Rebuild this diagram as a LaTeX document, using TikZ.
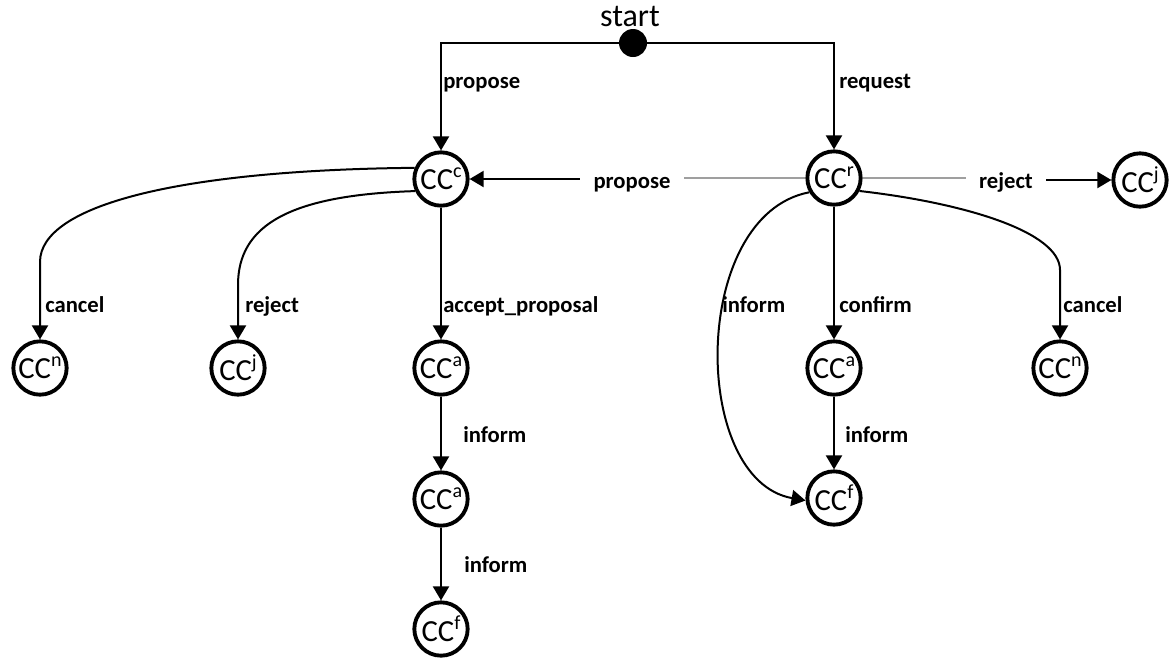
\documentclass[tikz,border=0pt]{standalone}
\usepackage{fontspec}
\setmainfont{Carlito}
\usetikzlibrary{arrows.meta}

% state label with raised index
\newcommand{\ccstate}[1]{CC\raisebox{0.4em}{\fontsize{15}{15}\selectfont #1}}

\begin{document}
\begin{tikzpicture}[x=0.75pt, y=-0.75pt,
  state/.style={circle, draw, line width=2.9pt, minimum size=40pt, inner sep=0pt,
                font=\fontsize{23}{23}\selectfont},
  arr/.style={-{Triangle[width=12pt, length=10.5pt]}, line width=1.5pt},
  gline/.style={line width=1.5pt, gray!75},
  lbl/.style={anchor=base west, inner sep=0pt, font=\bfseries\fontsize{17}{17}\selectfont},
  midlbl/.style={lbl, anchor=base, inner xsep=10pt}
]
\useasboundingbox (0,0) rectangle (1173,658);

% initial state
\node[circle, fill, inner sep=0pt, minimum size=21pt] (start) at (633,43) {};
\node[anchor=base, font=\fontsize{24}{24}\selectfont] (starttxt) at (630,26) {start};

% states
\node[state] (cc)   at (441,179) {\ccstate{c}};
\node[state] (ccr)  at (834,178) {\ccstate{r}};
\node[state] (ccrj) at (1140,180) {\ccstate{j}};
\node[state] (ccn)  at (40,368)  {\ccstate{n}};
\node[state] (ccj)  at (238,368) {\ccstate{j}};
\node[state] (cca)  at (441,368) {\ccstate{a}};
\node[state] (ccaa) at (441,499) {\ccstate{a}};
\node[state] (ccf)  at (441,629) {\ccstate{f}};
\node[state] (ccra) at (834,368) {\ccstate{a}};
\node[state] (ccrf) at (834,498) {\ccstate{f}};
\node[state] (ccrn) at (1060,368) {\ccstate{n}};

% from start
\draw[arr] (start) -| (cc);
\draw[arr] (start) -| (ccr);
\node[lbl] (lpropose) at (443,88) {propose};
\node[lbl] (lrequest) at (839,88) {request};

% horizontal transitions
\node[midlbl] (lprop) at (632,188) {propose};
\draw[gline] (ccr) -- (ccr -| lprop.east);
\draw[arr] (cc -| lprop.west) -- (cc);
\node[midlbl] (lrej) at (1006,188) {reject};
\draw[gline] (ccr) -- (ccr -| lrej.west);
\draw[arr] (ccrj -| lrej.east) -- (ccrj);

% left branch
\draw[arr] (cc.157) .. controls (180,170) and (40,205) .. (40,262) -- (ccn);
\draw[arr] (cc.205) .. controls (290,195) and (238,225) .. (238,285) -- (ccj);
\draw[arr] (cc) -- (cca);
\draw[arr] (cca) -- (ccaa);
\draw[arr] (ccaa) -- (ccf);
\node[lbl] (lcancel) at (45,312) {cancel};
\node[lbl] (lreject) at (245,312) {reject};
\node[lbl] (laccept) at (443,312) {accept\_proposal};
\node[lbl] (linform1) at (463,442) {inform};
\node[lbl] (linform2) at (464,572) {inform};

% right branch
\draw[arr] (ccr.210) .. controls (690,215) and (690,480) .. (ccrf.185);
\draw[arr] (ccr) -- (ccra);
\draw[arr] (ccra) -- (ccrf);
\draw[arr] (ccr.333) .. controls (965,203) and (1060,232) .. (1060,270) -- (ccrn);
\node[lbl] (linform3) at (722,312) {inform};
\node[lbl] (lconfirm) at (839,312) {confirm};
\node[lbl] (lcancel2) at (1063,312) {cancel};
\node[lbl] (linform4) at (845,442) {inform};
\end{tikzpicture}
\end{document}
